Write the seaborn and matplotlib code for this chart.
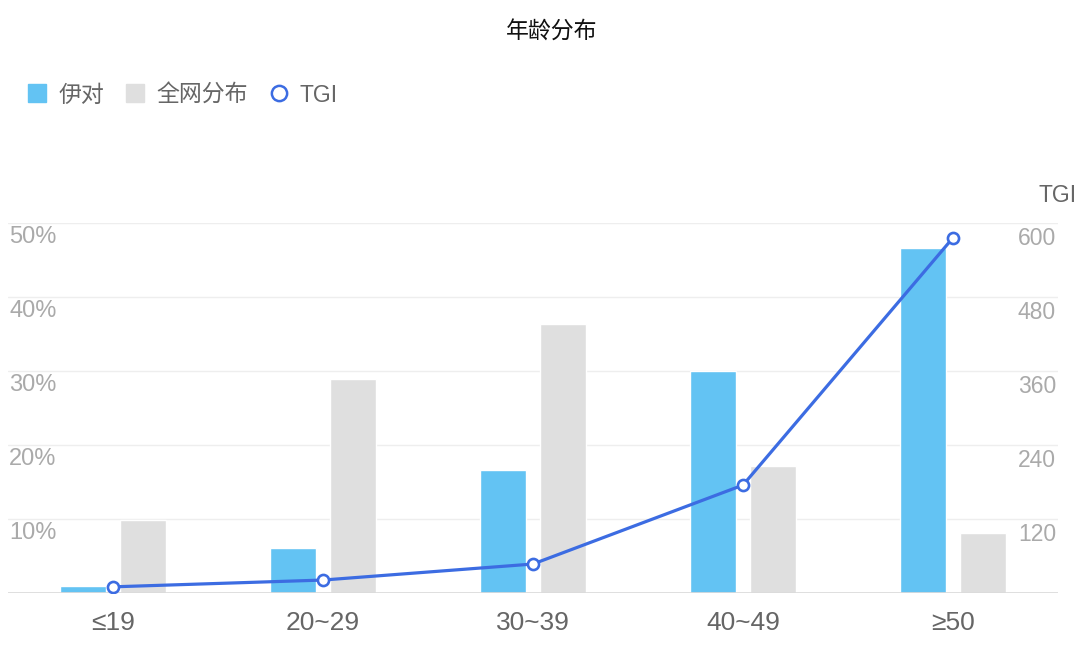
import numpy as np
import pandas as pd
import matplotlib.pyplot as plt
import matplotlib.transforms as mtransforms
from matplotlib.lines import Line2D
import seaborn as sns

# data
ages = ['≤19', '20~29', '30~39', '40~49', '≥50']
yidui = [0.95, 6.1, 16.6, 30.0, 46.6]        # 伊对 (%)
quanwang = [9.9, 28.9, 36.4, 17.2, 8.1]      # 全网分布 (%)
tgi = [10, 21, 47, 175, 576]
pct_ticks = [10, 20, 30, 40, 50]
tgi_ticks = [120, 240, 360, 480, 600]
series_names = ['伊对', '全网分布']

BLUE = '#63C3F3'
GREY = '#DFDFDF'
LINE = '#3C6CE2'
TXT = '#666666'
TICK = '#AAAAAA'

sns.set_style('white')
plt.rcParams['font.family'] = ['Liberation Sans', 'Noto Sans CJK SC', 'DejaVu Sans']

df = pd.DataFrame({
    'age': ages * 2,
    'value': yidui + quanwang,
    'series': [series_names[0]] * len(ages) + [series_names[1]] * len(ages),
})

fig = plt.figure(figsize=(10.8, 6.63), dpi=100)
ax = fig.add_axes([8 / 1080, 70 / 663, 1050 / 1080, 370 / 663])

sns.barplot(data=df, x='age', y='value', hue='series', order=ages,
            hue_order=series_names, palette=[BLUE, GREY], width=0.58,
            gap=0.245, saturation=1, errorbar=None, legend=False, ax=ax)

ax.set_ylim(0, 50)
ax.set_yticks([0] + pct_ticks)
ax.set_yticklabels([])
ax.yaxis.grid(True, color='#EEEEEE', lw=1)
ax.set_axisbelow(True)
ax.axhline(0, color='#DADADA', lw=1.2, zorder=3)
for s in ax.spines.values():
    s.set_visible(False)
ax.set_xlabel('')
ax.set_ylabel('')
ax.tick_params(axis='x', length=0, pad=13, labelsize=19, labelcolor=TXT)
ax.tick_params(axis='y', length=0)

# TGI line on the right axis
ax2 = ax.twinx()
sns.pointplot(x=ages, y=tgi, ax=ax2, color=LINE, markers='o',
              linewidth=2.3, markersize=8, markerfacecolor='white',
              markeredgewidth=1.9, markeredgecolor=LINE, errorbar=None)
ax2.set_ylim(0, 600)
ax2.set_yticks(tgi_ticks)
ax2.set_yticklabels([])
ax2.tick_params(axis='y', length=0)
for s in ax2.spines.values():
    s.set_visible(False)
ax2.set_xlabel('')
ax2.set_ylabel('')
ax.set_xlim(-0.5, len(ages) - 0.5)

# tick labels placed inside the plot, just under each grid line
left_tr = mtransforms.offset_copy(ax.get_yaxis_transform(), fig=fig, x=1, y=-3, units='dots')
for v in pct_ticks:
    ax.text(0, v, f'{v}%', transform=left_tr, ha='left', va='top',
            fontsize=17, color=TICK)
right_tr = mtransforms.offset_copy(ax2.get_yaxis_transform(), fig=fig, x=-2, y=-4, units='dots')
for v in tgi_ticks:
    ax2.text(1, v, str(v), transform=right_tr, ha='right', va='top',
             fontsize=16.5, color=TICK)

fig.text(1077 / 1080, 1 - 195 / 663, 'TGI', ha='right', va='center',
         fontsize=16.5, color=TXT)
fig.text(552 / 1080, 1 - 32 / 663, '年龄分布', ha='center', va='center',
         fontsize=16.5, color='#111111')

handles = [
    Line2D([], [], marker='s', linestyle='none', markersize=13.5,
           markerfacecolor=BLUE, markeredgecolor=BLUE),
    Line2D([], [], marker='s', linestyle='none', markersize=13.5,
           markerfacecolor=GREY, markeredgecolor=GREY),
    Line2D([], [], marker='o', linestyle='none', markersize=11,
           markerfacecolor='white', markeredgecolor=LINE, markeredgewidth=1.8),
]
fig.legend(handles, series_names + ['TGI'], loc='center left',
           bbox_to_anchor=(26 / 1080, 1 - 95 / 663), ncol=3, frameon=False,
           fontsize=16.5, labelcolor=TXT, handlelength=1.0, handletextpad=0.42,
           columnspacing=0.85, borderpad=0, borderaxespad=0)

fig.savefig('out.png', dpi=100)
